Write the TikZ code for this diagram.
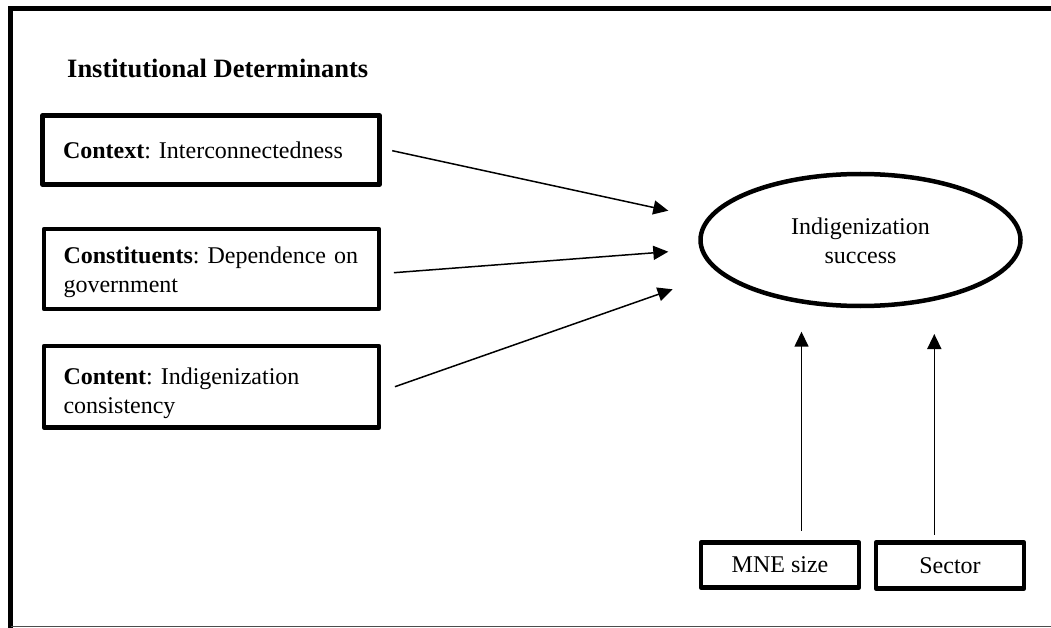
\documentclass[tikz,border=0pt]{standalone}
\usepackage{fontspec}
\setmainfont{Liberation Serif}
\usetikzlibrary{shapes.geometric,arrows.meta}
\frenchspacing
\newcommand{\lowerby}[1]{\rule{0pt}{#1}}
\begin{document}
\begin{tikzpicture}[x=1pt,y=-1pt,
  boxtext/.style={font=\fontsize{24}{28.8}\selectfont\frenchspacing},
  box/.style={draw, line width=4.5pt, line join=round, inner sep=0pt, boxtext},
  lbox/.style={box, align=left, text width=296pt},
  arr/.style={line width=1.5pt, -{Triangle[length=15pt,width=14pt]}},
  frame/.style={line width=5pt},
  thinframe/.style={line width=1pt, black!70}]
\useasboundingbox (0,0) rectangle (1051,628);
% outer frame (open on the right)
\draw[frame] (1051,9) -- (10.5,9) -- (10.5,628);
\draw[thinframe] (10.5,626) -- (1051,626);
% title
\node[inner sep=0pt, anchor=base west, font=\fontsize{26.5}{30}\selectfont\bfseries] (title) at (67,77.3) {Institutional Determinants};
% determinant boxes
\node[lbox, minimum width=337pt, minimum height=69pt] (b1) at (211,150) {\textbf{Context}: Interconnectedness};
\node[lbox, minimum width=335pt, minimum height=80pt] (b2) at (211.5,269) {\lowerby{23.4pt}\textbf{Constituents}: Dependence on\\government};
\node[lbox, minimum width=335pt, minimum height=81.5pt] (b3) at (211.5,386.7) {\lowerby{30.4pt}\textbf{Content}: Indigenization\\consistency};
% outcome
\node[draw, ellipse, line width=4.5pt, minimum width=320pt, minimum height=132pt, inner sep=0pt, align=center, boxtext] (succ) at (860.5,240) {\lowerby{19pt}Indigenization\\success};
% controls
\node[box, minimum width=158pt, minimum height=45pt] (mne) at (780,565) {MNE size};
\node[box, minimum width=148pt, minimum height=46pt] (sector) at (950,565.6) {Sector};
% arrow tips (free ends)
\coordinate (t1) at (668.3,210.7);
\coordinate (t2) at (668.3,251.7);
\coordinate (t3) at (672.7,289.3);
\coordinate (tm) at (801.5,331.7);
\coordinate (ts) at (934.3,334);
% connectors
\draw[arr] ([xshift=10.5pt,yshift=-0.7pt]b1.east) -- (t1);
\draw[arr] ([xshift=12.7pt,yshift=-3.7pt]b2.east) -- (t2);
\draw[arr] ([xshift=13.7pt]b3.east) -- (t3);
\draw[arr] ([xshift=21.5pt,yshift=9.5pt]mne.north) -- (tm);
\draw[arr] ([xshift=-15.7pt,yshift=5.6pt]sector.north) -- (ts);
\end{tikzpicture}
\end{document}
